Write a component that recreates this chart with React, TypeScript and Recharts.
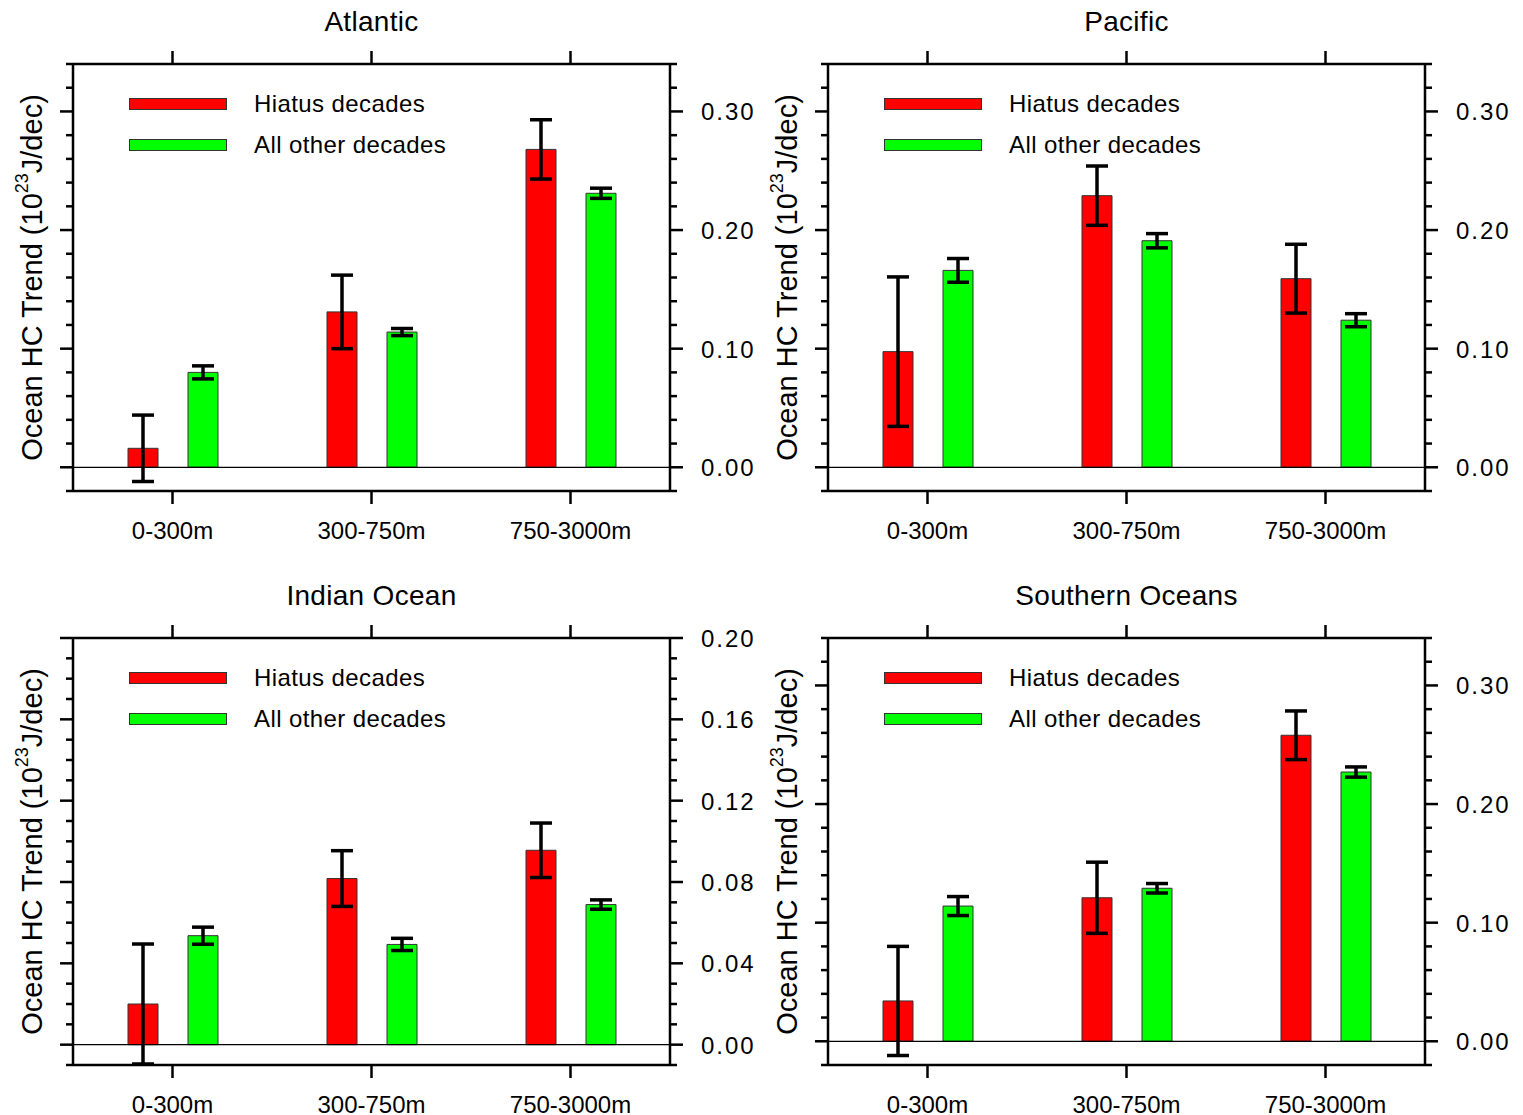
import React from 'react';
import { BarChart, Bar, XAxis, YAxis, ErrorBar, ReferenceLine, Legend } from 'recharts';

const FONT = '"Liberation Sans", Arial, Helvetica, sans-serif';

// ---------- data ----------
const depthCategories = ['0-300m', '300-750m', '750-3000m'];
const seriesNames = ['Hiatus decades', 'All other decades'];
const seriesColors = ['#ff0000', '#00ff00'];

const atlanticHiatus = [0.016, 0.131, 0.268];
const atlanticHiatusErr = [0.028, 0.031, 0.025];
const atlanticOther = [0.08, 0.114, 0.231];
const atlanticOtherErr = [0.0055, 0.003, 0.0043];

const pacificHiatus = [0.0975, 0.229, 0.159];
const pacificHiatusErr = [0.063, 0.025, 0.029];
const pacificOther = [0.166, 0.191, 0.124];
const pacificOtherErr = [0.01, 0.006, 0.0055];

const indianHiatus = [0.02, 0.0817, 0.0956];
const indianHiatusErr = [0.0295, 0.0137, 0.0134];
const indianOther = [0.0536, 0.0493, 0.0689];
const indianOtherErr = [0.0042, 0.003, 0.0023];

const southernHiatus = [0.034, 0.121, 0.258];
const southernHiatusErr = [0.046, 0.03, 0.0205];
const southernOther = [0.114, 0.129, 0.227];
const southernOtherErr = [0.008, 0.004, 0.0043];

const majorTicksWide = [0, 0.1, 0.2, 0.3];
const majorTicksIndian = [0, 0.04, 0.08, 0.12, 0.16, 0.2];
const domainWide: [number, number] = [-0.02, 0.34];
const domainIndian: [number, number] = [-0.01, 0.2];

const panelTitles = ['Atlantic', 'Pacific', 'Indian Ocean', 'Southern Oceans'];

// ---------- layout ----------
const CHART_W = 755;
const CHART_H = 555;
const PLOT_LEFT = 73;
const PLOT_TOP = 64;
const PLOT_W = 597;
const PLOT_H = 427;
const LEFT_AXIS_W = PLOT_LEFT;
const RIGHT_AXIS_W = 80;
const TOP_AXIS_H = 30;
const BOTTOM_AXIS_H = 60;

const buildRows = (h: number[], he: number[], o: number[], oe: number[]) =>
  depthCategories.map((d, i) => ({ depth: d, hiatus: h[i], hiatusErr: he[i], other: o[i], otherErr: oe[i] }));

const minorTicks = (domain: [number, number], step: number) => {
  const n = Math.round((domain[1] - domain[0]) / step);
  const out: number[] = [];
  for (let i = 0; i <= n; i++) out.push(+(domain[0] + i * step).toFixed(4));
  return out;
};

const isMajor = (v: number, majors: number[]) => majors.some((m) => Math.abs(m - v) < 1e-6);

const LINE_W = 2.5;

const LegendContent = (props: any) => {
  const items = [...(props.payload || [])].sort(
    (a: any, b: any) => seriesNames.indexOf(a.value) - seriesNames.indexOf(b.value)
  );
  return (
    <div style={{ fontFamily: FONT, fontSize: 24, letterSpacing: 0.4, color: '#000' }}>
      {items.map((item: any) => (
        <div key={item.value} style={{ display: 'flex', alignItems: 'center', height: 41, whiteSpace: 'nowrap' }}>
          <div
            style={{
              width: 98,
              height: 12,
              background: item.color,
              border: '1px solid #333',
              boxSizing: 'border-box',
            }}
          />
          <span style={{ marginLeft: 27 }}>{item.value}</span>
        </div>
      ))}
    </div>
  );
};

type PanelProps = {
  title: string;
  rows: any[];
  domain: [number, number];
  majors: number[];
  minorStep: number;
  left: number;
  top: number;
};

const Panel = ({ title, rows, domain, majors, minorStep, left, top }: PanelProps) => {
  const ticks = minorTicks(domain, minorStep);
  const leftTick = (p: any) => {
    const major = isMajor(p.payload.value, majors);
    return (
      <line x1={p.x - (major ? 13 : 7)} x2={p.x} y1={p.y} y2={p.y} stroke="#000" strokeWidth={LINE_W} />
    );
  };
  const rightTick = (p: any) => {
    const major = isMajor(p.payload.value, majors);
    return (
      <g>
        <line x1={p.x} x2={p.x + (major ? 13 : 7)} y1={p.y} y2={p.y} stroke="#000" strokeWidth={LINE_W} />
        {major && (
          <text
            x={p.x + 31}
            y={p.y + 9}
            fontSize={24}
            letterSpacing={2}
            fontFamily={FONT}
            fill="#000"
            textAnchor="start"
          >
            {Number(p.payload.value).toFixed(2)}
          </text>
        )}
      </g>
    );
  };
  const bottomTick = (p: any) => (
    <g>
      <line x1={p.x} x2={p.x} y1={p.y} y2={p.y + 13} stroke="#000" strokeWidth={LINE_W} />
      <text x={p.x} y={p.y + 48} fontSize={24} fontFamily={FONT} fill="#000" textAnchor="middle">
        {p.payload.value}
      </text>
    </g>
  );
  const topTick = (p: any) => (
    <line x1={p.x} x2={p.x} y1={p.y - 13} y2={p.y} stroke="#000" strokeWidth={LINE_W} />
  );
  const TitleLabel = () => (
    <text x={PLOT_LEFT + PLOT_W / 2} y={31} fontSize={28} letterSpacing={0.3} fontFamily={FONT} fill="#000" textAnchor="middle">
      {title}
    </text>
  );
  const cy = PLOT_TOP + PLOT_H / 2;
  const YTitle = () => (
    <text
      x={32}
      y={cy}
      transform={`rotate(-90, 32, ${cy})`}
      textAnchor="middle"
      dominantBaseline="central"
      fontSize={29}
      fontFamily={FONT}
      fill="#000"
    >
      Ocean HC Trend (10
      <tspan dy={-10} fontSize={18}>
        23
      </tspan>
      <tspan dy={10}>J/dec)</tspan>
    </text>
  );

  return (
    <div style={{ position: 'absolute', left, top, width: CHART_W, height: CHART_H }}>
      <BarChart
        width={CHART_W}
        height={CHART_H}
        data={rows}
        barGap={30}
        margin={{
          left: PLOT_LEFT - LEFT_AXIS_W,
          top: PLOT_TOP - TOP_AXIS_H,
          right: CHART_W - PLOT_LEFT - PLOT_W - RIGHT_AXIS_W,
          bottom: CHART_H - PLOT_TOP - PLOT_H - BOTTOM_AXIS_H,
        }}
      >
        <XAxis
          dataKey="depth"
          type="category"
          height={BOTTOM_AXIS_H}
          tickSize={0}
          tickMargin={0}
          tickLine={false}
          interval={0}
          axisLine={{ stroke: '#000', strokeWidth: LINE_W }}
          tick={bottomTick}
        />
        <XAxis
          xAxisId="top"
          dataKey="depth"
          type="category"
          orientation="top"
          height={TOP_AXIS_H}
          tickSize={0}
          tickMargin={0}
          tickLine={false}
          interval={0}
          axisLine={{ stroke: '#000', strokeWidth: LINE_W }}
          tick={topTick}
          label={{ content: TitleLabel }}
        />
        <YAxis
          yAxisId="left"
          type="number"
          domain={domain}
          allowDataOverflow
          ticks={ticks}
          interval={0}
          width={LEFT_AXIS_W}
          tickSize={0}
          tickMargin={0}
          tickLine={false}
          axisLine={{ stroke: '#000', strokeWidth: LINE_W }}
          tick={leftTick}
          label={{ content: YTitle }}
        />
        <YAxis
          yAxisId="right"
          orientation="right"
          type="number"
          domain={domain}
          allowDataOverflow
          ticks={ticks}
          interval={0}
          width={RIGHT_AXIS_W}
          tickSize={0}
          tickMargin={0}
          tickLine={false}
          axisLine={{ stroke: '#000', strokeWidth: LINE_W }}
          tick={rightTick}
        />
        <ReferenceLine y={0} yAxisId="left" stroke="#000" strokeWidth={1.2} />
        <Legend
          layout="vertical"
          align="center"
          verticalAlign="middle"
          wrapperStyle={{ left: 129, top: 83, width: 'auto', height: 'auto' }}
          content={LegendContent}
        />
        <Bar
          dataKey="hiatus"
          name={seriesNames[0]}
          yAxisId="left"
          fill={seriesColors[0]}
          stroke="#333"
          strokeWidth={1}
          barSize={30}
          isAnimationActive={false}
        >
          <ErrorBar dataKey="hiatusErr" width={11} stroke="#000" strokeWidth={3.5} direction="y" isAnimationActive={false} />
        </Bar>
        <Bar
          dataKey="other"
          name={seriesNames[1]}
          yAxisId="left"
          fill={seriesColors[1]}
          stroke="#333"
          strokeWidth={1}
          barSize={30}
          isAnimationActive={false}
        >
          <ErrorBar dataKey="otherErr" width={11} stroke="#000" strokeWidth={3.5} direction="y" isAnimationActive={false} />
        </Bar>
      </BarChart>
    </div>
  );
}

export default function App() {
  return (
    <div style={{ position: 'absolute', left: 0, top: 0, width: 1523, height: 1115, background: '#fff' }}>
      <Panel
        title={panelTitles[0]}
        rows={buildRows(atlanticHiatus, atlanticHiatusErr, atlanticOther, atlanticOtherErr)}
        domain={domainWide}
        majors={majorTicksWide}
        minorStep={0.02}
        left={0}
        top={0}
      />
      <Panel
        title={panelTitles[1]}
        rows={buildRows(pacificHiatus, pacificHiatusErr, pacificOther, pacificOtherErr)}
        domain={domainWide}
        majors={majorTicksWide}
        minorStep={0.02}
        left={755}
        top={0}
      />
      <Panel
        title={panelTitles[2]}
        rows={buildRows(indianHiatus, indianHiatusErr, indianOther, indianOtherErr)}
        domain={domainIndian}
        majors={majorTicksIndian}
        minorStep={0.01}
        left={0}
        top={574}
      />
      <Panel
        title={panelTitles[3]}
        rows={buildRows(southernHiatus, southernHiatusErr, southernOther, southernOtherErr)}
        domain={domainWide}
        majors={majorTicksWide}
        minorStep={0.02}
        left={755}
        top={574}
      />
    </div>
  );
}
